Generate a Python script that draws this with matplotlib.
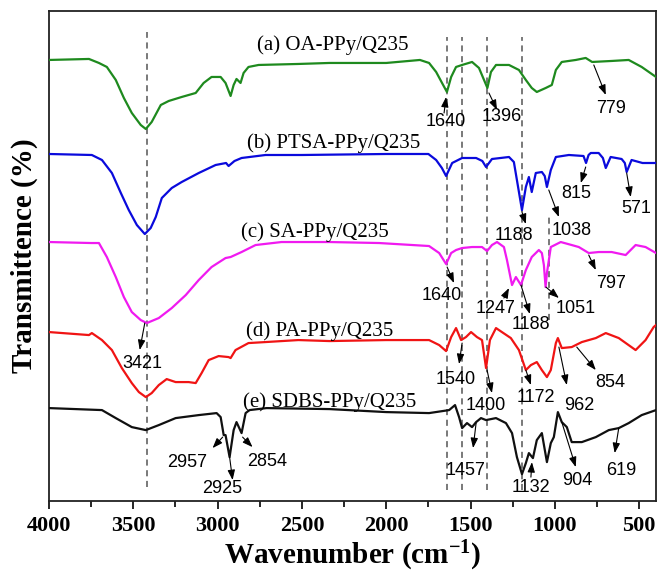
import matplotlib
matplotlib.use("Agg")
import matplotlib.pyplot as plt
from matplotlib.ticker import MultipleLocator

plt.rcParams["font.family"] = ["Liberation Serif", "DejaVu Serif"]
plt.rcParams["font.weight"] = "bold"
plt.rcParams["mathtext.fontset"] = "custom"
plt.rcParams["mathtext.rm"] = "Liberation Serif:bold"
plt.rcParams["mathtext.bf"] = "Liberation Serif:bold"
plt.rcParams["mathtext.default"] = "bf"

# ---------------- data ----------------
wn_a = [4000, 3763, 3704, 3657, 3604, 3556, 3509, 3456, 3426, 3391, 3337, 3290, 3213, 3130, 3083, 3036,
        2982, 2953, 2923, 2905, 2888, 2864, 2846, 2817, 2757, 2521, 2337, 2000, 1800, 1746, 1704, 1669,
        1640, 1615, 1586, 1550, 1491, 1450, 1420, 1400, 1379, 1349, 1272, 1213, 1172, 1137, 1107, 1054,
        1018, 994, 959, 876, 817, 779, 663, 562, 485, 400]
tr_a = [441, 442, 438, 434, 421, 403, 388, 376, 372, 379, 396, 400, 404, 408, 418, 424,
        424, 418, 405, 416, 422, 418, 428, 434, 436, 437, 438, 438, 441, 438, 429, 418,
        409, 424, 434, 436, 439, 433, 421, 413, 429, 436, 436, 431, 421, 413, 409, 413,
        416, 431, 439, 441, 443, 439, 440, 441, 434, 424]

wn_b = [4000, 3746, 3686, 3627, 3574, 3527, 3479, 3432, 3397, 3367, 3331, 3272, 3213, 3112, 3012, 2950,
        2935, 2900, 2858, 2716, 2500, 2000, 1750, 1704, 1670, 1645, 1609, 1550, 1467, 1430, 1408, 1373,
        1272, 1243, 1225, 1210, 1195, 1172, 1154, 1137, 1113, 1077, 1060, 1047, 1024, 994, 917, 830,
        815, 800, 787, 740, 715, 698, 669, 604, 585, 574, 545, 480, 400]
tr_b = [347, 346, 341, 328, 308, 291, 276, 267, 273, 284, 303, 313, 319, 328, 336, 338,
        335, 340, 343, 346, 346, 347, 347, 341, 333, 325, 338, 343, 343, 340, 334, 342,
        344, 339, 321, 306, 291, 314, 324, 309, 328, 329, 325, 314, 331, 344, 346, 345,
        338, 346, 348, 348, 343, 333, 344, 342, 338, 329, 341, 338, 338]

wn_c = [4000, 3750, 3704, 3657, 3604, 3556, 3509, 3456, 3420, 3349, 3272, 3189, 3112, 3036, 2953, 2923,
        2858, 2775, 2621, 2337, 2042, 1746, 1686, 1645, 1615, 1586, 1550, 1491, 1432, 1402, 1373, 1343,
        1302, 1284, 1254, 1231, 1201, 1172, 1137, 1095, 1077, 1065, 1055, 1047, 1024, 965, 900, 858,
        799, 740, 663, 580, 521, 462, 400]
tr_c = [259, 258, 258, 244, 224, 204, 189, 181, 178, 183, 193, 206, 221, 234, 243, 244,
        249, 256, 259, 259, 258, 255, 248, 237, 248, 251, 253, 254, 254, 250, 256, 259,
        254, 241, 216, 224, 216, 231, 244, 251, 248, 236, 214, 228, 254, 259, 256, 254,
        248, 249, 249, 246, 256, 254, 248]

wn_d = [4000, 3763, 3746, 3686, 3627, 3568, 3509, 3467, 3426, 3391, 3349, 3302, 3249, 3172, 3130, 3095,
        3053, 2994, 2935, 2923, 2894, 2817, 2716, 2521, 2337, 2000, 1746, 1686, 1645, 1615, 1586, 1556,
        1527, 1497, 1462, 1432, 1408, 1385, 1349, 1314, 1261, 1213, 1172, 1142, 1107, 1077, 1047, 1024,
        994, 982, 959, 900, 840, 757, 698, 621, 521, 462, 414, 400]
tr_d = [169, 166, 168, 161, 151, 133, 118, 109, 104, 108, 116, 122, 119, 119, 118, 128,
        141, 145, 144, 143, 151, 158, 159, 161, 160, 161, 161, 156, 150, 164, 173, 161,
        164, 169, 164, 161, 133, 161, 173, 169, 163, 151, 131, 136, 139, 131, 124, 131,
        158, 163, 153, 154, 159, 163, 168, 163, 151, 161, 174, 176]

wn_e = [4000, 3686, 3604, 3509, 3426, 3349, 3249, 3112, 3006, 2982, 2964, 2953, 2929, 2905, 2888, 2858,
        2834, 2811, 2710, 2337, 2000, 1746, 1627, 1592, 1568, 1550, 1521, 1491, 1467, 1438, 1408, 1349,
        1290, 1254, 1225, 1195, 1172, 1154, 1130, 1107, 1077, 1047, 1024, 1006, 982, 959, 929, 900,
        840, 757, 680, 621, 562, 485, 400]
tr_e = [93, 91, 83, 74, 71, 76, 83, 86, 88, 84, 66, 66, 44, 71, 79, 68,
        88, 91, 93, 92, 89, 88, 91, 96, 84, 73, 78, 74, 79, 83, 81, 83,
        78, 68, 44, 27, 38, 48, 43, 61, 68, 39, 58, 64, 89, 79, 74, 59,
        59, 64, 71, 73, 78, 86, 91]

series_labels = ["(a) OA-PPy/Q235", "(b) PTSA-PPy/Q235", "(c) SA-PPy/Q235",
                 "(d) PA-PPy/Q235", "(e) SDBS-PPy/Q235"]
series_colors = ["#1e8a1e", "#0a0adc", "#f01af0", "#f01414", "#101010"]

x_ticks = [4000, 3500, 3000, 2500, 2000, 1500, 1000, 500]

# full-height reference lines and a short one
guide_lines = [3421, 1640, 1550, 1400, 1195]
guide_short = 1035

# peak annotations: label, arrow tail (wn, T), arrow head (wn, T), label centre (wn, T)
peaks = [
    ("779", (769, 436), (698, 406), (669, 392)),
    ("1640", (1657, 388), (1645, 404), (1645, 379)),
    ("1396", (1391, 408), (1343, 391), (1314, 384)),
    ("1188", (1195, 289), (1172, 277), (1243, 266)),
    ("1038", (1036, 311), (976, 284), (900, 271)),
    ("815", (817, 334), (846, 318), (876, 308)),
    ("571", (574, 328), (550, 304), (515, 293)),
    ("1640", (1639, 234), (1598, 218), (1669, 206)),
    ("1247", (1302, 203), (1272, 213), (1349, 193)),
    ("1188", (1201, 216), (1148, 187), (1142, 177)),
    ("1051", (1053, 214), (976, 203), (876, 193)),
    ("797", (799, 246), (757, 231), (669, 218)),
    ("3421", (3432, 178), (3462, 151), (3444, 138)),
    ("1540", (1550, 158), (1568, 137), (1586, 122)),
    ("1400", (1402, 131), (1373, 108), (1408, 96)),
    ("1172", (1172, 131), (1142, 116), (1112, 104)),
    ("962", (976, 154), (929, 116), (858, 96)),
    ("854", (870, 154), (757, 131), (669, 119)),
    ("2957", (2970, 64), (3030, 53), (3178, 39)),
    ("2925", (2929, 44), (2911, 21), (2970, 13)),
    ("2854", (2852, 64), (2793, 54), (2704, 40)),
    ("1457", (1467, 78), (1485, 53), (1527, 31)),
    ("1132", (1142, 24), (1136, 39), (1142, 14)),
    ("904", (959, 79), (876, 34), (870, 21)),
    ("619", (621, 73), (645, 48), (604, 31)),
]
label_pos = [(2320, 456), (2314, 358), (2426, 269), (2397, 170), (2337, 99)]

# ---------------- figure ----------------
fig = plt.figure(figsize=(6.57, 5.76), dpi=100)
ax = fig.add_axes([0.0746, 0.130, 0.9239, 0.851])

all_wn = [wn_a, wn_b, wn_c, wn_d, wn_e]
all_tr = [tr_a, tr_b, tr_c, tr_d, tr_e]
for wn, tr, col in zip(all_wn, all_tr, series_colors):
    ax.plot(wn, tr, color=col, lw=1.6, zorder=3, solid_joinstyle="round")

for g in guide_lines:
    top = 469 if g == 3421 else 464
    bot = 14 if g == 3421 else 11
    ax.plot([g, g], [bot, top], ls=(0, (4, 3)), color="#555555", lw=1.1, zorder=2)
ax.plot([guide_short, guide_short], [181, 284], ls=(0, (4, 3)), color="#555555", lw=1.1, zorder=2)

for lab, (x, y) in zip(series_labels, label_pos):
    ax.text(x, y, lab, family="Liberation Serif", fontweight="normal", fontsize=15,
            ha="center", va="center", zorder=5)

for txt, tail, head, pos in peaks:
    ax.annotate("", xy=head, xytext=tail,
                arrowprops=dict(arrowstyle="-|>,head_length=0.6,head_width=0.22",
                                color="black", lw=0.8, shrinkA=0, shrinkB=0), zorder=4)
    ax.text(pos[0], pos[1], txt, family="Liberation Sans", fontweight="normal", fontsize=13,
            ha="center", va="center", zorder=5)

ax.set_xlim(4000, 400)
ax.set_ylim(0, 490)
ax.set_yticks([])
ax.set_xticks(x_ticks)
ax.xaxis.set_minor_locator(MultipleLocator(250))
ax.tick_params(axis="x", which="major", direction="out", length=6, width=1.2, pad=5,
               labelsize=16)
ax.tick_params(axis="x", which="minor", direction="out", length=4, width=1.2)
for s in ax.spines.values():
    s.set_linewidth(1.3)
    s.set_color("#222222")

ax.set_xlabel("Wavenumber (cm$^{-1}$)", fontweight="bold", fontsize=21, labelpad=2)
ax.set_ylabel("Transmittence (%)", fontweight="bold", fontsize=21, labelpad=8)

fig.savefig("out.png", dpi=100)
